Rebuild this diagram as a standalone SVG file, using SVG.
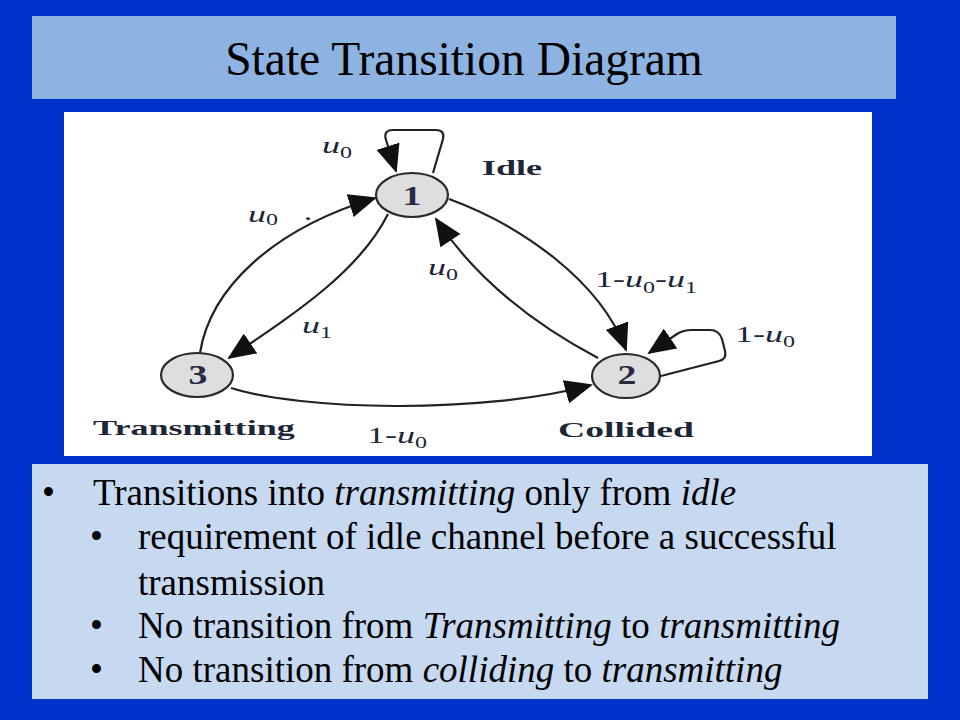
<svg xmlns="http://www.w3.org/2000/svg" width="960" height="720" viewBox="0 0 960 720">
<style>
  .title { font-family: "Liberation Serif", "Times New Roman", serif; font-size: 47.5px; fill: #000; }
  .body { font-family: "Liberation Serif", "Times New Roman", serif; font-size: 37px; fill: #000; }
  .it { font-style: italic; }
  .node ellipse { fill: #dedede; stroke: #2a2a2a; stroke-width: 2.2; }
  .num { font-family: "Liberation Serif", "Times New Roman", serif; font-size: 27px; font-weight: bold; fill: #2a2a44; text-anchor: middle; }
  .name { font-family: "Liberation Serif", "Times New Roman", serif; font-size: 22px; font-weight: bold; fill: #1c2636; }
  .m { font-family: "Liberation Serif", "Times New Roman", serif; font-size: 24px; fill: #1c2636; }
  .m .i { font-style: italic; }
  .m .s { font-size: 16px; }
  .edge { fill: none; stroke: #222; stroke-width: 2.2; marker-end: url(#arrow); }
</style>
<defs>
  <marker id="arrow" viewBox="0 0 28 24" refX="26" refY="12" markerWidth="28" markerHeight="24" markerUnits="userSpaceOnUse" orient="auto">
    <path d="M0,0 L28,12 L0,24 z" fill="#111"/>
  </marker>
</defs>

<rect x="0" y="0" width="960" height="720" fill="#0033CC"/>

<g id="title-bar">
  <rect x="32" y="16" width="864" height="83" fill="#8DB3E2"/>
  <text class="title" x="464" y="75" text-anchor="middle">State Transition Diagram</text>
</g>

<rect id="diagram-bg" x="64" y="112" width="808" height="344" fill="#ffffff"/>

<g id="connectors">
  <path id="e11" class="edge" d="M433,173 L443,139 Q445,130 436,130 L393,130 Q383,130 386,140 L396,171"/>
  <path id="e31" class="edge" d="M200,353 C210,290 270,230 375,198"/>
  <path id="e13" class="edge" d="M388,214 C360,270 300,310 229,358"/>
  <path id="e21" class="edge" d="M598,358 C545,330 480,285 436,219"/>
  <path id="e12" class="edge" d="M449,199 C520,225 600,280 626,350"/>
  <path id="e22" class="edge" d="M661,376 L719,361 Q727,359 725,351 L722,339 Q719,330 710,330 L692,330 Q683,330 677,334 L649,353"/>
  <path id="e32" class="edge" d="M231,388 C300,410 480,415 591,385"/>

  <text class="m" transform="translate(322,153) scale(1.5,1)"><tspan class="i">u</tspan><tspan class="s" dy="5">0</tspan></text>
  <text class="m" transform="translate(248,222) scale(1.5,1)"><tspan class="i">u</tspan><tspan class="s" dy="3">0</tspan><tspan x="37" dy="-5">.</tspan></text>
  <text class="m" transform="translate(428,275) scale(1.5,1)"><tspan class="i">u</tspan><tspan class="s" dy="5">0</tspan></text>
  <text class="m" transform="translate(302,333) scale(1.5,1)"><tspan class="i">u</tspan><tspan class="s" dy="5">1</tspan></text>
  <text class="m" transform="translate(595,287) scale(1.5,1)">1-<tspan class="i">u</tspan><tspan class="s" dy="6">0</tspan><tspan dy="-6">-</tspan><tspan class="i">u</tspan><tspan class="s" dy="6">1</tspan></text>
  <text class="m" transform="translate(735,342) scale(1.5,1)">1-<tspan class="i">u</tspan><tspan class="s" dy="5">0</tspan></text>
  <text class="m" transform="translate(367,443) scale(1.5,1)">1-<tspan class="i">u</tspan><tspan class="s" dy="5">0</tspan></text>
</g>

<g id="node1" class="node">
  <ellipse cx="412" cy="195" rx="36" ry="22"/>
  <text class="num" transform="translate(412,205) scale(1.4,1)">1</text>
  <text class="name" transform="translate(482,175) scale(1.64,1)">Idle</text>
</g>

<g id="node2" class="node">
  <ellipse cx="626" cy="376" rx="34" ry="22"/>
  <text class="num" transform="translate(627,384) scale(1.4,1)">2</text>
  <text class="name" transform="translate(558,437) scale(1.71,1)">Collided</text>
</g>

<g id="node3" class="node">
  <ellipse cx="197" cy="375" rx="36" ry="22"/>
  <text class="num" transform="translate(198,384) scale(1.4,1)">3</text>
  <text class="name" transform="translate(93,435) scale(1.64,1)">Transmitting</text>
</g>

<g id="notes">
  <rect x="32" y="464" width="896" height="235" fill="#C6D9F1"/>
  <text class="body" x="42" y="505">•</text>
  <text class="body" x="93" y="505">Transitions into <tspan class="it">transmitting</tspan> only from <tspan class="it">idle</tspan></text>
  <text class="body" x="90" y="549">•</text>
  <text class="body" x="138" y="549">requirement of idle channel before a successful</text>
  <text class="body" x="138" y="595">transmission</text>
  <text class="body" x="90" y="638">•</text>
  <text class="body" x="138" y="638">No transition from <tspan class="it">Transmitting</tspan> to <tspan class="it">transmitting</tspan></text>
  <text class="body" x="90" y="682">•</text>
  <text class="body" x="138" y="682">No transition from <tspan class="it">colliding</tspan> to <tspan class="it">transmitting</tspan></text>
</g>
</svg>
